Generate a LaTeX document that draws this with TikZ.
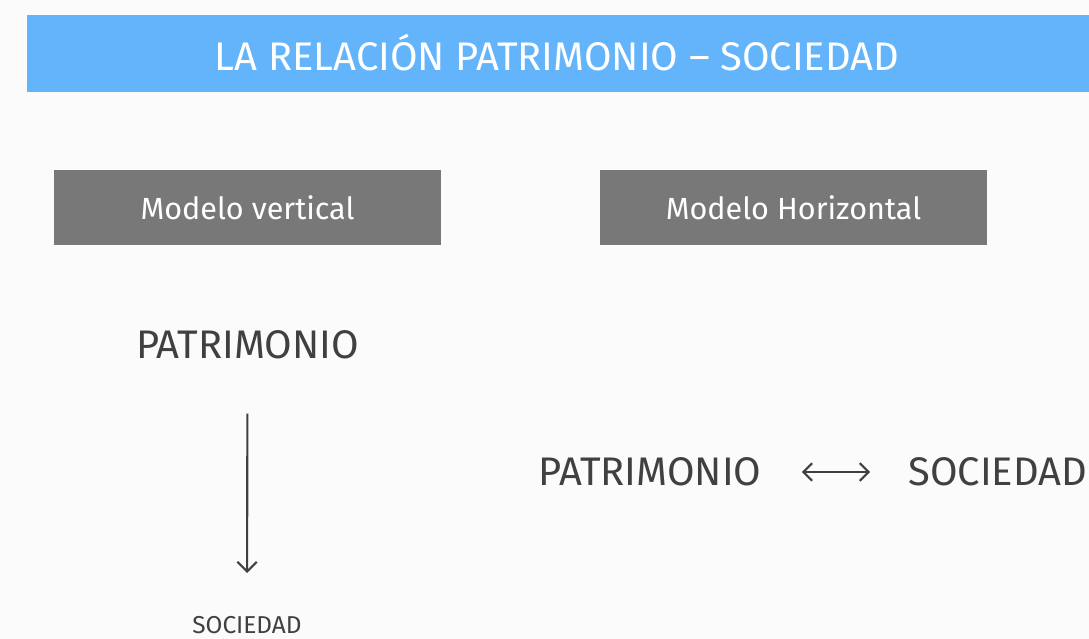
\documentclass[tikz,border=0pt]{standalone}
\usepackage{fontspec}
\setmainfont{Fira Sans}
\usetikzlibrary{arrows.meta}
\definecolor{barblue}{HTML}{64B4FC}
\definecolor{boxgray}{HTML}{787878}
\definecolor{inkgray}{HTML}{404040}
\definecolor{paper}{HTML}{FBFBFB}
\begin{document}
\begin{tikzpicture}[x=0.02cm, y=-0.02cm,
    box/.style = {fill=boxgray, text=white, inner sep=0pt, minimum width=7.74cm, minimum height=1.5cm, font=\fontsize{17.4}{21}\selectfont},
    word/.style = {text=inkgray, inner sep=0pt, font=\fontsize{22.7}{27}\selectfont},
    small/.style = {text=inkgray, inner sep=0pt, font=\fontsize{13.9}{17}\selectfont},
    link/.style = {draw=inkgray, line width=1.2pt}]
    \fill[paper] (0,0) rectangle (1089,639);
    \fill[barblue] (27,15) rectangle (1089,92);
    \node[text=white, font=\fontsize{22.7}{27}\selectfont] (title) at (557,53) {LA RELACIÓN PATRIMONIO – SOCIEDAD};

    \node[box] (vert) at (247.5,207.5) {Modelo vertical};
    \node[box] (horiz) at (793.5,207.5) {Modelo Horizontal};

    \node[word] (patl) at (247.5,345) {PATRIMONIO};
    \node[small] (socl) at (247,625) {SOCIEDAD};
    \node[word] (patr) at (650,472) {PATRIMONIO};
    \node[word, anchor=west] (socr) at (908,472) {SOCIEDAD};

    \draw[link, -{Straight Barb[length=5.5pt, width=11pt]}, shorten <=1.08cm, shorten >=0.86cm] (patl) -- (socl);
    \draw[link, {Straight Barb[length=5pt, width=10pt]}-{Straight Barb[length=5pt, width=10pt]}, shorten <=0.8cm, shorten >=0.76cm] (patr) -- (socr);
\end{tikzpicture}
\end{document}
